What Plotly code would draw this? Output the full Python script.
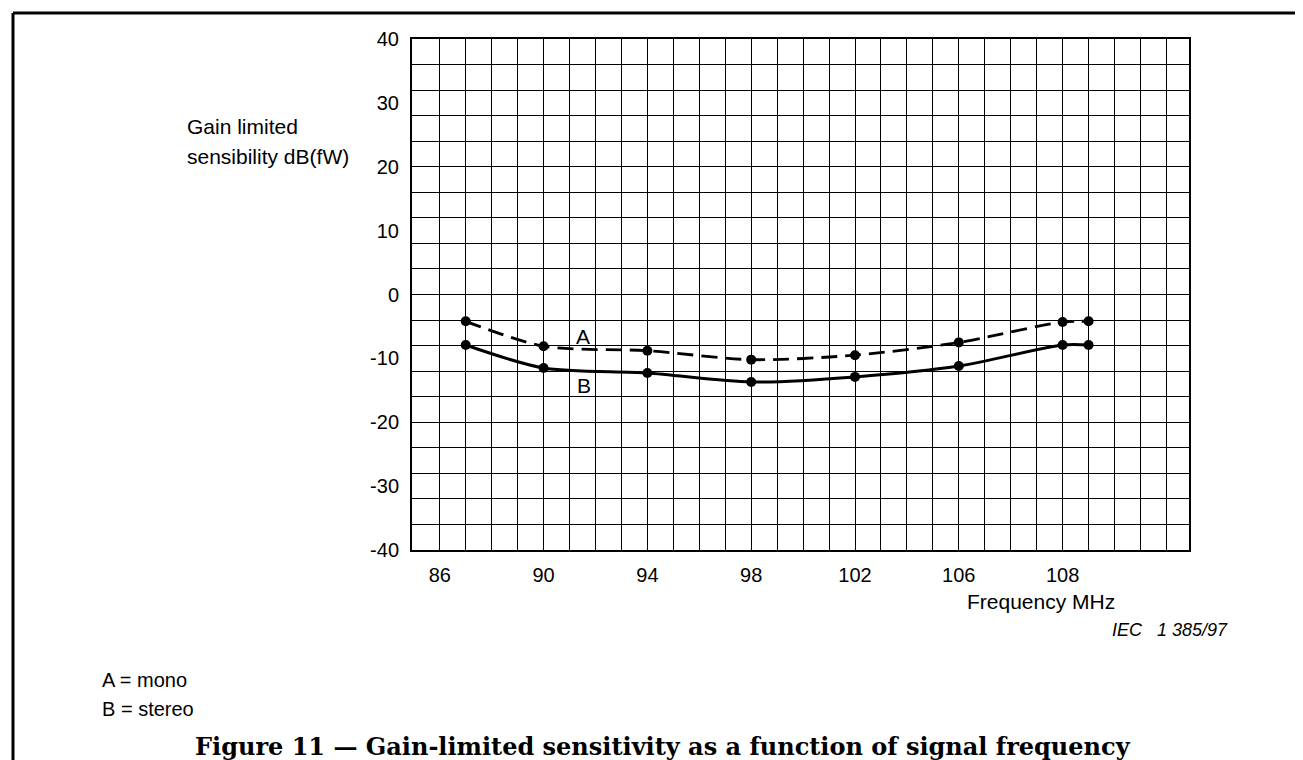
import plotly.graph_objects as go

# ---- data (x values are positions on the chart's grid: one grid column per unit) ----
x_pos = [87, 90, 94, 98, 102, 106, 110, 111]
mono_A = [-4.2, -8.1, -8.8, -10.2, -9.5, -7.5, -4.3, -4.2]
stereo_B = [-7.9, -11.5, -12.3, -13.7, -12.9, -11.2, -7.9, -7.9]

x_grid = list(range(86, 115))
x_tick_labels = {86: "86", 90: "90", 94: "94", 98: "98", 102: "102", 106: "106", 110: "108"}
y_grid = list(range(-36, 37, 4))
y_ticks = list(range(-40, 41, 10))

SANS = "Liberation Sans, Arial, Helvetica, sans-serif"
SERIF = "DejaVu Serif, Liberation Serif, serif"

W, H = 1303, 760
L, R, T, B = 404, 122, 31, 218
PW, PH = W - L - R, H - T - B


def px(xp):
    return (xp - L) / PW


def py(yp):
    return (H - B - yp) / PH


fig = go.Figure()
fig.add_trace(go.Scatter(
    x=x_pos, y=mono_A, mode="lines+markers", name="A = mono", yaxis="y2",
    line=dict(color="black", width=2.8, dash="16px,8px", shape="spline", smoothing=0.8),
    marker=dict(color="black", size=10), showlegend=False,
))
fig.add_trace(go.Scatter(
    x=x_pos, y=stereo_B, mode="lines+markers", name="B = stereo", yaxis="y2",
    line=dict(color="black", width=3, shape="spline", smoothing=0.8),
    marker=dict(color="black", size=10), showlegend=False,
))

fig.update_layout(
    width=W, height=H,
    margin=dict(l=L, r=R, t=T, b=B, pad=0),
    paper_bgcolor="white", plot_bgcolor="white",
    font=dict(family=SANS, color="black", size=20),
    xaxis=dict(
        range=[84.93, 114.87], tickmode="array", tickvals=x_grid,
        ticktext=[x_tick_labels.get(v, "") for v in x_grid],
        showgrid=True, gridcolor="black", gridwidth=1.3,
        showline=True, linecolor="black", linewidth=1.8, mirror=True,
        ticks="", zeroline=False, ticklabelstandoff=6,
        tickfont=dict(size=20, family=SANS),
    ),
    yaxis=dict(
        range=[-40, 40], tickmode="array", tickvals=y_grid,
        showticklabels=False, showgrid=True, gridcolor="black", gridwidth=1.3,
        showline=True, linecolor="black", linewidth=1.8, mirror=True,
        ticks="", zeroline=False,
    ),
    yaxis2=dict(
        range=[-40, 40], overlaying="y", anchor="x", side="left",
        tickmode="array", tickvals=y_ticks, ticktext=[str(v) for v in y_ticks],
        showgrid=False, zeroline=False, showline=False, ticks="",
        ticklabelstandoff=12, tickfont=dict(size=20, family=SANS),
    ),
)

ann = []
# curve labels (data coordinates)
ann.append(dict(x=91.52, y=-6.5, xref="x", yref="y", text="A", showarrow=False,
                font=dict(size=21, family=SANS), xanchor="center", yanchor="middle"))
ann.append(dict(x=91.56, y=-14.2, xref="x", yref="y", text="B", showarrow=False,
                font=dict(size=21, family=SANS), xanchor="center", yanchor="middle"))
# y axis title
ann.append(dict(x=px(177), y=py(118), xref="paper", yref="paper", text="Gain limited",
                showarrow=False, xanchor="left", yanchor="middle", font=dict(size=21, family=SANS)))
ann.append(dict(x=px(177), y=py(148), xref="paper", yref="paper", text="sensibility dB(fW)",
                showarrow=False, xanchor="left", yanchor="middle", font=dict(size=21, family=SANS)))
# x axis title
ann.append(dict(x=px(957), y=py(593), xref="paper", yref="paper", text="Frequency MHz",
                showarrow=False, xanchor="left", yanchor="middle", font=dict(size=21, family=SANS)))
# reference code
ann.append(dict(x=px(1102), y=py(622), xref="paper", yref="paper",
                text="<i>IEC\u00a0\u00a0\u00a01 385/97</i>",
                showarrow=False, xanchor="left", yanchor="middle", font=dict(size=18, family=SANS)))
# key
ann.append(dict(x=px(92), y=py(672), xref="paper", yref="paper", text="A = mono",
                showarrow=False, xanchor="left", yanchor="middle", font=dict(size=20, family=SANS)))
ann.append(dict(x=px(92), y=py(701), xref="paper", yref="paper", text="B = stereo",
                showarrow=False, xanchor="left", yanchor="middle", font=dict(size=20, family=SANS)))
# caption
ann.append(dict(x=px(655), y=py(738), xref="paper", yref="paper",
                text="<b>Figure 11 \u2014 Gain-limited sensitivity as a function of signal frequency</b>",
                showarrow=False, xanchor="center", yanchor="middle", font=dict(size=24, family=SERIF)))
fig.update_layout(annotations=ann)

# page frame (top and left edges)
fig.add_shape(type="line", xref="paper", yref="paper", x0=px(5), y0=py(762), x1=px(5), y1=py(5),
              line=dict(color="black", width=3))
fig.add_shape(type="line", xref="paper", yref="paper", x0=px(5), y0=py(5), x1=px(1305), y1=py(5),
              line=dict(color="black", width=3))

fig.write_html("out.html")
